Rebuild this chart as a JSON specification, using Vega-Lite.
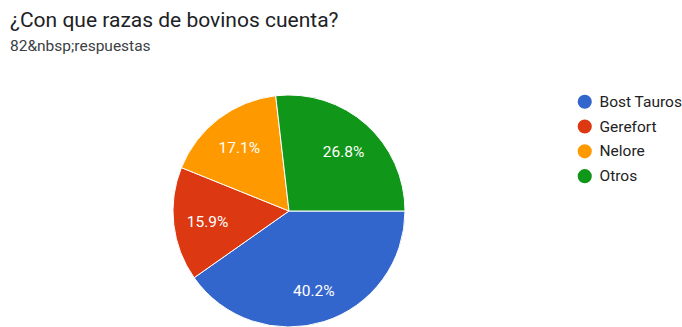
{
  "$schema": "https://vega.github.io/schema/vega-lite/v6.json",
  "width": 232,
  "height": 232,
  "autosize": {"type": "none"},
  "padding": {"left": 173, "top": 95, "right": 277, "bottom": 0},
  "background": "white",
  "title": {
    "text": "¿Con que razas de bovinos cuenta?",
    "subtitle": "82&nbsp;respuestas",
    "anchor": "start",
    "frame": "group",
    "dx": -163,
    "offset": 39,
    "font": "Roboto",
    "fontSize": 21,
    "fontWeight": "normal",
    "color": "#202124",
    "subtitleFont": "Roboto",
    "subtitleFontSize": 15.5,
    "subtitleColor": "#3c4043",
    "subtitlePadding": 8
  },
  "data": {
    "values": [
      {"raza": "Bost Tauros", "n": 33, "pct": "40.2%"},
      {"raza": "Gerefort", "n": 13, "pct": "15.9%"},
      {"raza": "Nelore", "n": 14, "pct": "17.1%"},
      {"raza": "Otros", "n": 22, "pct": "26.8%"}
    ]
  },
  "encoding": {
    "theta": {"field": "n", "type": "quantitative", "stack": true, "scale": {"range": [1.5708, 7.854]}},
    "order": {"field": "raza", "sort": "ascending"}
  },
  "layer": [
    {
      "mark": {"type": "arc", "radius": 116, "stroke": "white", "strokeWidth": 1},
      "encoding": {
        "color": {
          "field": "raza",
          "type": "nominal",
          "scale": {"domain": ["Bost Tauros", "Gerefort", "Nelore", "Otros"], "range": ["#3366cc", "#dc3912", "#ff9900", "#109618"]},
          "legend": {
            "title": null,
            "orient": "none",
            "legendX": 404,
            "legendY": -1,
            "symbolType": "circle",
            "symbolSize": 200,
            "symbolStrokeWidth": 0,
            "labelFont": "Roboto",
            "labelFontSize": 15.5,
            "labelColor": "#222222",
            "labelOffset": 7,
            "rowPadding": 7.8
          }
        }
      }
    },
    {
      "mark": {"type": "text", "radius": 82, "dy": 2, "font": "Roboto", "fontSize": 15.5, "color": "white"},
      "encoding": {"text": {"field": "pct"}}
    }
  ]
}
